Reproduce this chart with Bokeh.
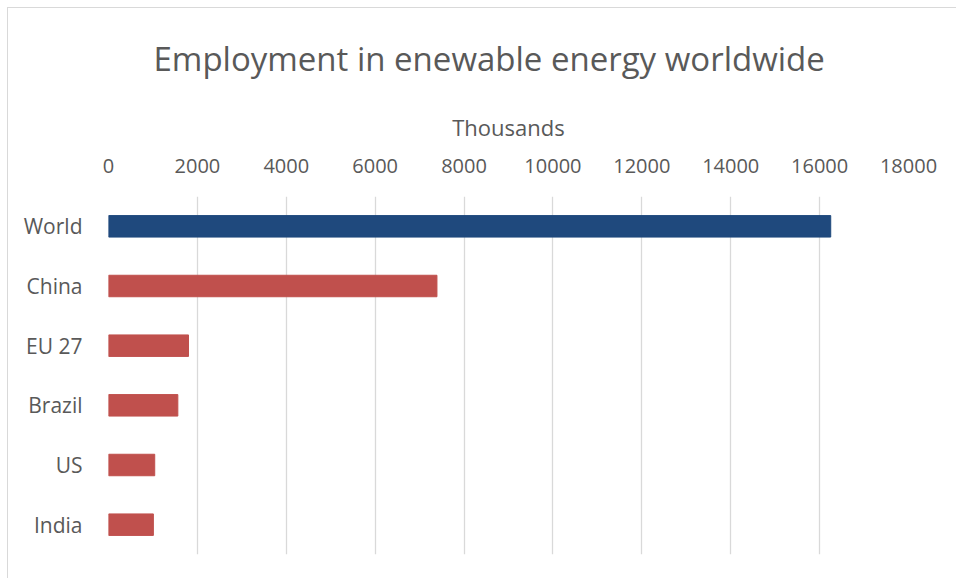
from bokeh.plotting import figure
from bokeh.models import FactorRange, Range1d, ColumnDataSource, FixedTicker
from bokeh.embed import file_html
from bokeh.resources import INLINE

# ---- data ----
categories = ["World", "China", "EU 27", "Brazil", "US", "India"]
employment = [16250, 7390, 1800, 1560, 1040, 1010]
bar_colors = ["#1F497D", "#C0504D", "#C0504D", "#C0504D", "#C0504D", "#C0504D"]
x_ticks = [0, 2000, 4000, 6000, 8000, 10000, 12000, 14000, 16000, 18000]
chart_title = "Employment in enewable energy worldwide"
axis_title = "Thousands"

FONT = "Open Sans"
TXT = "#595959"

source = ColumnDataSource(dict(cat=categories, val=employment, color=bar_colors))

p = figure(
    width=949, height=571,
    y_range=FactorRange(factors=categories[::-1], range_padding=0),
    x_range=Range1d(0, 18000),
    x_axis_location="above",
    output_backend="svg", toolbar_location=None,
    min_border_left=100, min_border_right=49,
    min_border_top=188, min_border_bottom=25,
)
p.styles = {"margin": "7px 0 0 7px", "border-left": "1px solid #d9d9d9",
            "border-top": "1px solid #d9d9d9"}

p.hbar(y="cat", right="val", left=0, height=0.36, color="color", source=source)

p.outline_line_color = None
p.background_fill_color = "white"
p.border_fill_color = "white"

# title
p.title.text = chart_title
p.title.align = "left"
p.title.offset = 45
p.title.vertical_align = "top"
p.title.text_font = FONT
p.title.text_font_size = "33px"
p.title.text_font_style = "normal"
p.title.text_color = TXT
p.title.standoff = 52

# grid
p.ygrid.grid_line_color = None
p.xgrid.grid_line_color = "#d9d9d9"
p.xgrid.grid_line_width = 1.3
p.xgrid.ticker = FixedTicker(ticks=x_ticks)

# x axis (top)
xa = p.xaxis[0]
xa.ticker = FixedTicker(ticks=x_ticks)
xa.axis_line_color = None
xa.major_tick_line_color = None
xa.minor_tick_line_color = None
xa.major_label_text_font = FONT
xa.major_label_text_font_size = "20px"
xa.major_label_text_color = TXT
xa.major_label_standoff = 18
xa.axis_label = axis_title
xa.axis_label_text_font = FONT
xa.axis_label_text_font_size = "22px"
xa.axis_label_text_font_style = "normal"
xa.axis_label_text_color = TXT
xa.axis_label_standoff = 14

# y axis
ya = p.yaxis[0]
ya.axis_line_color = None
ya.major_tick_line_color = None
ya.minor_tick_line_color = None
ya.major_label_text_font = FONT
ya.major_label_text_font_size = "21px"
ya.major_label_text_color = TXT
ya.major_label_standoff = 20

open("out.html", "w").write(file_html(p, INLINE))
